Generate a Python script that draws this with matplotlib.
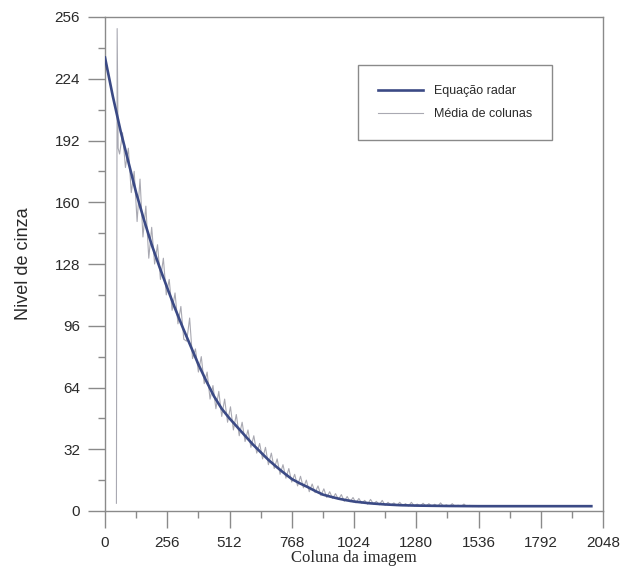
import numpy as np
import matplotlib
matplotlib.use('Agg')
import matplotlib.pyplot as plt
from matplotlib.ticker import MultipleLocator

# Equação radar (smooth model curve)
radar_x = [0, 32, 64, 96, 128, 160, 192, 224, 256, 288, 320, 352, 384, 416, 448, 480,
           512, 544, 576, 608, 640, 672, 704, 736, 768, 800, 832, 864, 896, 928, 960,
           992, 1024, 1088, 1152, 1216, 1280, 1408, 1536, 1792, 2000]
radar_y = [235, 215, 197, 181, 165, 151, 138, 126.5, 115.6, 105, 95, 85.5, 76, 67.5, 59.5, 53,
           48, 43.5, 39, 34.5, 30.5, 26.5, 23, 19.7, 16.6, 14.4, 12.5, 10.4, 8.5, 7.4, 6.4,
           5.6, 4.9, 4.0, 3.4, 3.0, 2.8, 2.6, 2.5, 2.5, 2.5]

# Média de colunas (noisy column average)
media_x = [47, 50, 54] + list(range(60, 1560, 12)) + [1620, 1700, 1800, 1900, 2000]
media_y = [4, 250, 188,
           185, 196, 178, 188, 165, 176, 150, 172, 142, 158, 131, 147,
           128, 138, 120, 131, 112, 120, 104, 113, 97, 106, 89, 88,
           100, 79, 84, 72, 80, 66, 72, 58, 65, 53, 62, 49,
           58, 46, 54, 42, 50, 39, 46, 36, 42, 33, 39, 30,
           35, 27, 33, 24, 30, 22, 27, 19, 24, 17, 22, 15,
           19, 13, 18, 12, 16, 10, 14, 9.5, 13, 8, 11.5, 7,
           10, 6.5, 9, 6, 8.5, 5, 7.5, 4.8, 7, 4.2, 6.5, 4,
           5.5, 3.5, 6, 3.6, 5, 3.2, 5.5, 3, 4.5, 3, 4.2, 2.8,
           4.5, 2.8, 3.8, 2.6, 4.5, 2.6, 3.6, 2.5, 4, 2.5, 3.8, 2.4,
           3.5, 2.4, 4.2, 2.4, 3.2, 2.3, 3.8, 2.3, 3, 2.3, 3.6, 2.3,
           2.9, 2.3, 2.8, 2.3, 2.6,
           2.4, 2.4, 2.4, 2.4, 2.4]
media_x = media_x[:len(media_y)]

xticks = [0, 256, 512, 768, 1024, 1280, 1536, 1792, 2048]
yticks = [0, 32, 64, 96, 128, 160, 192, 224, 256]

fig = plt.figure(figsize=(6.21, 5.70), dpi=100)
ax = fig.add_axes([105/621, 1-511/570, 498/621, 494/570])

ax.plot(media_x, media_y, color='#a9a9b2', lw=0.8, label='Média de colunas', zorder=2)
ax.plot(radar_x, radar_y, color='#3b4a85', lw=1.9, label='Equação radar', zorder=3)

ax.set_xlim(0, 2048)
ax.set_ylim(0, 256)
ax.set_xticks(xticks)
ax.set_yticks(yticks)
ax.xaxis.set_minor_locator(MultipleLocator(128))
ax.yaxis.set_minor_locator(MultipleLocator(16))

for s in ax.spines.values():
    s.set_color('#8a8a8a')
    s.set_linewidth(1.0)
ax.tick_params(which='major', direction='out', length=12, width=1.0, color='#8a8a8a',
               labelsize=11, labelcolor='#2a2a2a', pad=6)
ax.tick_params(which='minor', direction='out', length=5, width=1.0, color='#8a8a8a')
for lab in ax.get_xticklabels() + ax.get_yticklabels():
    lab.set_family('Liberation Sans')

ax.set_xlabel('Coluna da imagem', family='Liberation Serif', fontsize=12, color='#2a2a2a', labelpad=0)
ax.set_ylabel('Nivel de cinza', family='Liberation Sans', fontsize=13, color='#2a2a2a')
ax.yaxis.set_label_coords(-0.147, 0.5)

h, l = ax.get_legend_handles_labels()
leg = ax.legend(h[::-1], l[::-1], loc='upper left', bbox_to_anchor=(0.508, 0.903),
                borderaxespad=0, fancybox=False, edgecolor='#8a8a8a', framealpha=1,
                prop={'family': 'Liberation Sans', 'size': 9}, handlelength=3.6,
                handletextpad=0.9, borderpad=1.6, labelspacing=0.9)
leg.get_frame().set_linewidth(1.0)
for t in leg.get_texts():
    t.set_color('#2a2a2a')

plt.savefig('out.png', dpi=100)
